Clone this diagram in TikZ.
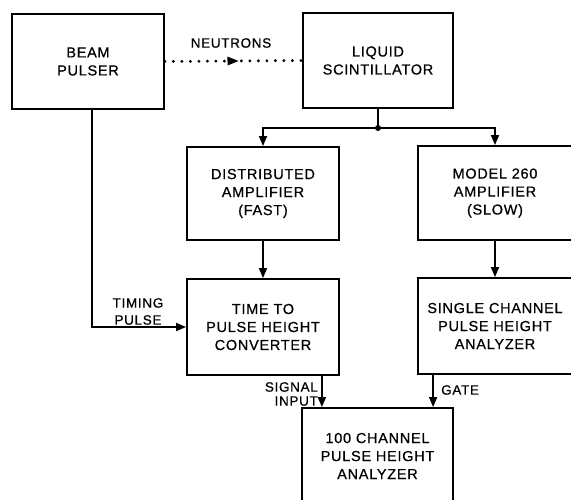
\documentclass[tikz,border=0pt]{standalone}
\usepackage{fontspec}
\setmainfont{Liberation Sans}[LetterSpace=5, FakeBold=0.6]
\usetikzlibrary{arrows.meta,decorations.markings}
\tikzset{
  blk/.style={draw=black, line width=1.8pt, align=center, inner sep=0pt,
    font=\fontsize{14.5}{18}\selectfont},
  lbl/.style={font=\fontsize{13.5}{14}\selectfont, inner sep=0pt},
  conn/.style={line width=1.6pt},
  arr/.style={conn, -{Triangle[length=10pt,width=8pt]}},
}
\begin{document}
\begin{tikzpicture}[x=1pt,y=-1pt]
\useasboundingbox (0,0) rectangle (571,500);
\clip (0,0) rectangle (571,500);
\fill[white] (0,0) rectangle (571,500);
\node[blk, minimum width=152pt, minimum height=95pt] (bp) at (88,61.5) {BEAM\\PULSER};
\node[blk, minimum width=150pt, minimum height=95pt] (ls) at (378,60.5) {LIQUID\\SCINTILLATOR};
\node[blk, minimum width=152pt, minimum height=93pt] (da) at (263,193.5) {DISTRIBUTED\\AMPLIFIER\\(FAST)};
\node[blk, minimum width=154pt, minimum height=94pt] (m260) at (495,193) {MODEL 260\\AMPLIFIER\\(SLOW)};
\node[blk, minimum width=152pt, minimum height=96pt] (tpc) at (263,327) {TIME TO\\PULSE HEIGHT\\CONVERTER};
\node[blk, minimum width=154pt, minimum height=96pt] (sc) at (495,326) {SINGLE CHANNEL\\PULSE HEIGHT\\ANALYZER};
\node[blk, minimum width=151pt, minimum height=96pt] (hc) at (377.5,456) {100 CHANNEL\\PULSE HEIGHT\\ANALYZER};

% neutrons
\draw[line width=3.2pt, line cap=round, dash pattern=on 0pt off 8.5pt,
  postaction={decorate, decoration={markings, mark=at position 0.5 with {\fill (5pt,0) -- (-6pt,4.5pt) -- (-6pt,-4.5pt) -- cycle;}}}]
  (bp.east) -- (ls.west);
\node[lbl] (nl) at (231,43) {NEUTRONS};

% scintillator split
\coordinate (j) at (ls.south |- 0,128);
\draw[conn] (ls.south) -- (j);
\fill (j) circle (3pt);
\draw[arr] (j) -| (da.north);
\draw[arr] (j) -| (m260.north);

% vertical flows
\draw[arr] (da.south) -- (tpc.north);
\draw[arr] (m260.south) -- (sc.north);

% timing pulse
\draw[arr] ([xshift=4pt]bp.south) |- (tpc.west);
\node[lbl, align=center] (tl) at (138,311.5) {TIMING\\[3pt]PULSE};

% signal input / gate
\coordinate (sa) at ([xshift=-18pt]tpc.south east);
\draw[arr] (sa) -- (sa |- hc.north);
\node[lbl, align=right, anchor=east] (sl) at (318,394) {SIGNAL\\INPUT};
\coordinate (ga) at ([xshift=16pt]sc.south west);
\draw[arr] (ga) -- (ga |- hc.north);
\node[lbl, anchor=west] (gl) at (441,390) {GATE};
\end{tikzpicture}
\end{document}
